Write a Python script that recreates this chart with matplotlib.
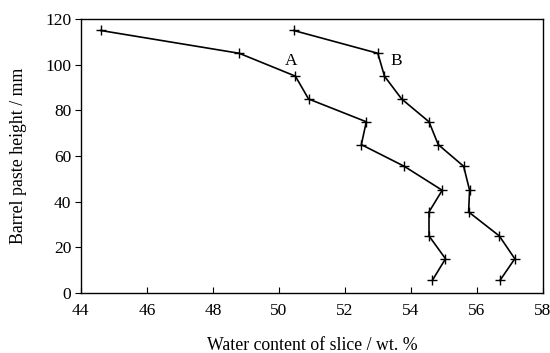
import numpy as np
import matplotlib
matplotlib.use("Agg")
import matplotlib.pyplot as plt

plt.rcParams["font.family"] = ["Liberation Serif", "DejaVu Serif"]

height = [115, 105, 95, 85, 75, 65, 55.5, 45, 35.5, 25, 15, 5.5]
water_a = [44.6, 48.8, 50.5, 50.9, 52.65, 52.5, 53.8, 54.95, 54.55, 54.55, 55.05, 54.65]
water_b = [50.45, 53.0, 53.2, 53.72, 54.55, 54.83, 55.6, 55.78, 55.75, 56.68, 57.15, 56.7]

fig = plt.figure(figsize=(5.5, 3.53), dpi=100)
ax = fig.add_axes([0.147, 0.170, 0.840, 0.776])

for w in (water_a, water_b):
    ax.plot(w, height, color="black", lw=1.2, marker="+", ms=7.5, mew=1.0)

ax.text(50.38, 101.5, "A", fontsize=12.5, ha="center", va="center")
ax.text(53.57, 101.5, "B", fontsize=12.5, ha="center", va="center")

ax.set_xlim(44, 58)
ax.set_ylim(0, 120)
ax.set_xticks(np.arange(44, 59, 2))
ax.set_yticks(np.arange(0, 121, 20))
ax.tick_params(axis="x", direction="in", length=4, labelsize=12.5, pad=7)
ax.tick_params(axis="y", direction="out", length=4, labelsize=12.5, pad=3)
for sp in ax.spines.values():
    sp.set_linewidth(1.0)

ax.set_xlabel("Water content of slice / wt. %", fontsize=12.8, labelpad=13)
ax.set_ylabel("Barrel paste height / mm", fontsize=12.8, labelpad=13)

fig.savefig("out.png", dpi=100, facecolor="white")
